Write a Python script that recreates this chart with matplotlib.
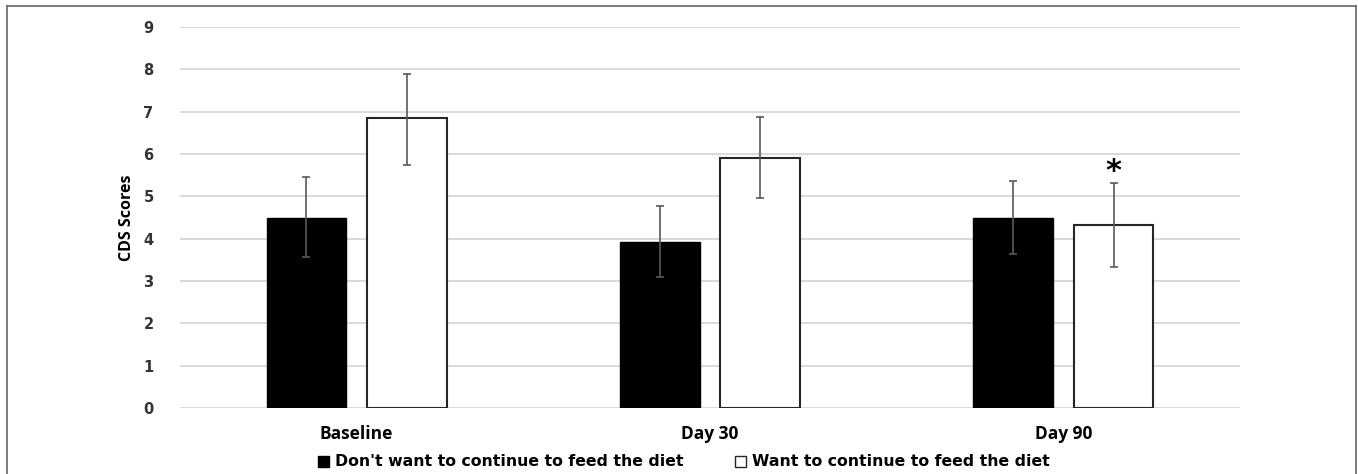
import numpy as np
import matplotlib.pyplot as plt
from matplotlib.lines import Line2D
from matplotlib.patches import Patch

categories = ['Baseline', 'Day 30', 'Day 90']
dont_want = [4.5, 3.93, 4.5]
dont_want_hi = [5.45, 4.77, 5.37]
dont_want_lo = [3.57, 3.1, 3.64]
want = [6.85, 5.9, 4.33]
want_hi = [7.9, 6.87, 5.32]
want_lo = [5.75, 4.95, 3.32]
labels = ["Don't want to continue to feed the diet", "Want to continue to feed the diet"]

plt.rcParams['font.family'] = ['Open Sans', 'DejaVu Sans']

fig = plt.figure(figsize=(13.58, 4.74), dpi=100)
ax = fig.add_axes([180/1358, 66/474, 1060/1358, 381/474])

x = np.arange(len(categories))
off = 0.142
w = 0.226
err_b = [np.array(dont_want) - np.array(dont_want_lo), np.array(dont_want_hi) - np.array(dont_want)]
err_w = [np.array(want) - np.array(want_lo), np.array(want_hi) - np.array(want)]

ax.bar(x - off, dont_want, w, color='black', edgecolor='black', zorder=3)
ax.bar(x + off, want, w, color='white', edgecolor='#262626', linewidth=1.5, zorder=3)
ax.errorbar(x - off, dont_want, yerr=err_b, fmt='none', ecolor='#595959', elinewidth=1.2, capsize=3, capthick=1.2, zorder=4)
ax.errorbar(x + off, want, yerr=err_w, fmt='none', ecolor='#595959', elinewidth=1.2, capsize=3, capthick=1.2, zorder=4)

# significance mark over Day 90
ax.text(x[2] + off, want_hi[2] + 0.26, '*', ha='center', va='center', fontsize=22, fontweight='bold',
        color='black', family='DejaVu Sans')

ax.set_xlim(-0.5, 2.5)
ax.set_ylim(0, 9)
ax.set_yticks(range(10))
ax.set_yticklabels([str(i) for i in range(10)], fontweight='bold', fontsize=10.5, color='#333333', family='DejaVu Sans')
ax.set_xticks(x)
ax.set_xticklabels(categories, fontweight='bold', fontsize=12.5, color='black')
ax.tick_params(length=0, pad=12)
ax.tick_params(axis='y', pad=19)
ax.yaxis.grid(True, color='#d9d9d9', linewidth=1.4, zorder=0)
ax.set_axisbelow(True)
for s in ax.spines.values():
    s.set_visible(False)
ax.set_ylabel('CDS Scores', fontweight='bold', fontsize=11.5, labelpad=6)

handles = [Patch(facecolor='black', edgecolor='black'), Patch(facecolor='white', edgecolor='#262626')]
fig.legend(handles, labels, loc='center', bbox_to_anchor=(684/1358, 12/474), ncol=2, frameon=False,
           prop={'weight': 'bold', 'size': 11.3, 'family': 'DejaVu Sans'},
           handlelength=0.7, handleheight=0.7, handletextpad=0.35, columnspacing=3.3)

# outer frame
for xs, ys in [([7, 7], [0, 468]), ([7, 1356], [468, 468]), ([1356, 1356], [0, 468])]:
    fig.add_artist(Line2D(np.array(xs)/1358, np.array(ys)/474, color='#666666', linewidth=1.2))

fig.savefig('out.png', dpi=100)
